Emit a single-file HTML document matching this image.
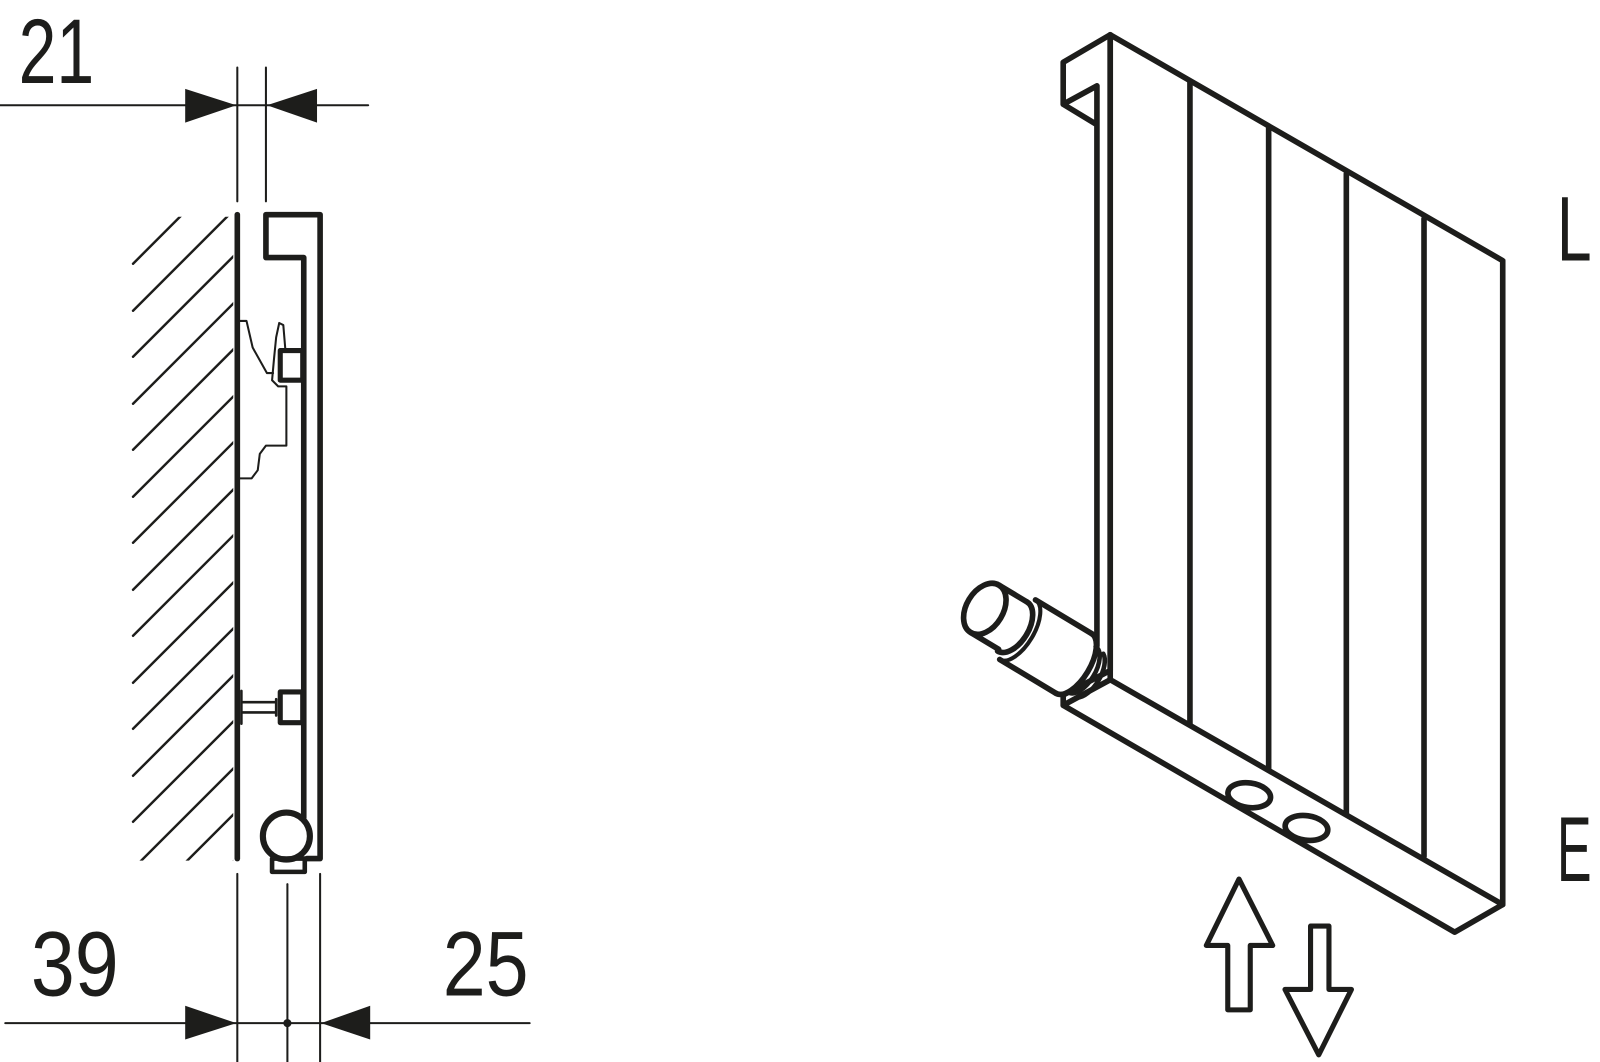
<!DOCTYPE html>
<html><head><meta charset="utf-8"><style>html,body{margin:0;padding:0;background:#fff}svg{display:block}</style></head>
<body>
<svg width="1600" height="1062" viewBox="0 0 1565 1039" xmlns="http://www.w3.org/2000/svg" fill="none" stroke="#1d1d1b" stroke-linecap="round" stroke-linejoin="round">
<defs><clipPath id="hc"><rect x="128" y="212" width="100" height="630"/></clipPath></defs>
<g clip-path="url(#hc)" stroke-width="2.4">
<line x1="130" y1="258" x2="178" y2="210"/>
<line x1="130" y1="304" x2="230" y2="204"/>
<line x1="130" y1="349" x2="230" y2="249"/>
<line x1="130" y1="395" x2="230" y2="295"/>
<line x1="130" y1="440" x2="230" y2="340"/>
<line x1="130" y1="486" x2="230" y2="386"/>
<line x1="130" y1="531" x2="230" y2="431"/>
<line x1="130" y1="577" x2="230" y2="477"/>
<line x1="130" y1="622" x2="230" y2="522"/>
<line x1="130" y1="668" x2="230" y2="568"/>
<line x1="130" y1="713" x2="230" y2="613"/>
<line x1="130" y1="759" x2="230" y2="659"/>
<line x1="130" y1="804" x2="230" y2="704"/>
<line x1="130" y1="850" x2="230" y2="750"/>
<line x1="130" y1="895" x2="230" y2="795"/>
<line x1="130" y1="941" x2="230" y2="841"/>
</g>
<line x1="232" y1="210" x2="232" y2="840" stroke-width="5.5"/>
<path d="M297 800 V252 H260 V210 H313 V840 H300" stroke-width="5.5"/>
<circle cx="280" cy="818" r="23" stroke-width="6"/>
<rect x="266" y="840" width="32" height="13" stroke-width="4.5"/>
<rect x="274" y="343" width="22" height="29" stroke-width="5"/>
<path d="M234 314 H241 L247 340 L261 365 H267" stroke-width="2"/>
<path d="M274 345 L279 342 L277 318 L273 316 L270 330 L268 350 L266 372 L272 378 H280 V436 H260 L254 444 L252 460 L246 468 H234" stroke-width="2"/>
<rect x="274" y="677" width="22" height="30" stroke-width="5"/>
<path d="M236 687 H270 M236 697 H270 M270 684 V700 M236 676 V708" stroke-width="2.5"/>
<g stroke-width="2">
<line x1="0" y1="103" x2="360" y2="103"/>
<line x1="232" y1="66" x2="232" y2="197"/>
<line x1="260" y1="66" x2="260" y2="197"/>
<line x1="232" y1="855" x2="232" y2="1039"/>
<line x1="281" y1="865" x2="281" y2="1039"/>
<line x1="313" y1="855" x2="313" y2="1039"/>
<line x1="5" y1="1001" x2="518" y2="1001"/>
</g>
<g fill="#1d1d1b" stroke="none">
<polygon points="181,87 231,103 181,120"/>
<polygon points="310,87 261,103 310,120"/>
<polygon points="181,984 231,1001 181,1017"/>
<polygon points="362,984 314,1001 362,1017"/>
<circle cx="281" cy="1001" r="4"/>
</g>
<g fill="#1d1d1b" stroke="none" font-family="'Liberation Sans', sans-serif" font-size="90">
<text x="18" y="81" textLength="74" lengthAdjust="spacingAndGlyphs">21</text>
<text x="30" y="974" textLength="86" lengthAdjust="spacingAndGlyphs">39</text>
<text x="433" y="974" textLength="84" lengthAdjust="spacingAndGlyphs">25</text>
<text x="1523" y="255" textLength="34" lengthAdjust="spacingAndGlyphs">L</text>
<text x="1523" y="862" textLength="34" lengthAdjust="spacingAndGlyphs">E</text>
</g>
<g stroke-width="5.5">
<path d="M1086 34 L1470 255 V885 L1423 912 L1040 690 V680 L1086 656 Z"/>
<path d="M1086 34 V665 L1470 885"/>
<path d="M1086 34 L1040 61 V102 L1073 122 M1073 84 L1040 102 M1073 84 V632"/>
<line x1="1040" y1="690" x2="1086" y2="665"/>
<line x1="1164" y1="80" x2="1164" y2="708"/>
<line x1="1241" y1="125" x2="1241" y2="752"/>
<line x1="1317" y1="170" x2="1317" y2="796"/>
<line x1="1393" y1="214" x2="1393" y2="838"/>
<ellipse cx="1222" cy="778" rx="21" ry="12" transform="rotate(8 1222 778)"/>
<ellipse cx="1278" cy="810" rx="21" ry="12" transform="rotate(8 1278 810)"/>
<g transform="rotate(31 1000 620)">
<ellipse cx="956" cy="618" rx="18" ry="27"/>
<path d="M956 591 H988 M956 645 H988"/>
<path d="M988 591 A 16 28 0 0 1 988 647"/>
<path d="M994 585 H1058 M994 653 H1058"/>
<path d="M994 585 A 16 34 0 0 1 994 653" stroke-width="4"/>
<path d="M1058 585 A 16 34 0 0 1 1058 653"/>
<path d="M1068 594 A 13 26 0 0 1 1068 646" stroke-width="4.5"/>
<path d="M1078 596 A 13 26 0 0 1 1078 646" stroke-width="4.5"/>
</g>
<path d="M1212 860 L1245 925 H1223 V988 H1201 V925 H1180 Z" stroke-width="5"/>
<path d="M1282 906 H1300 V968 H1322 L1290 1032 L1257 968 H1282 Z" stroke-width="5"/>
</g>
</svg>
</body></html>
